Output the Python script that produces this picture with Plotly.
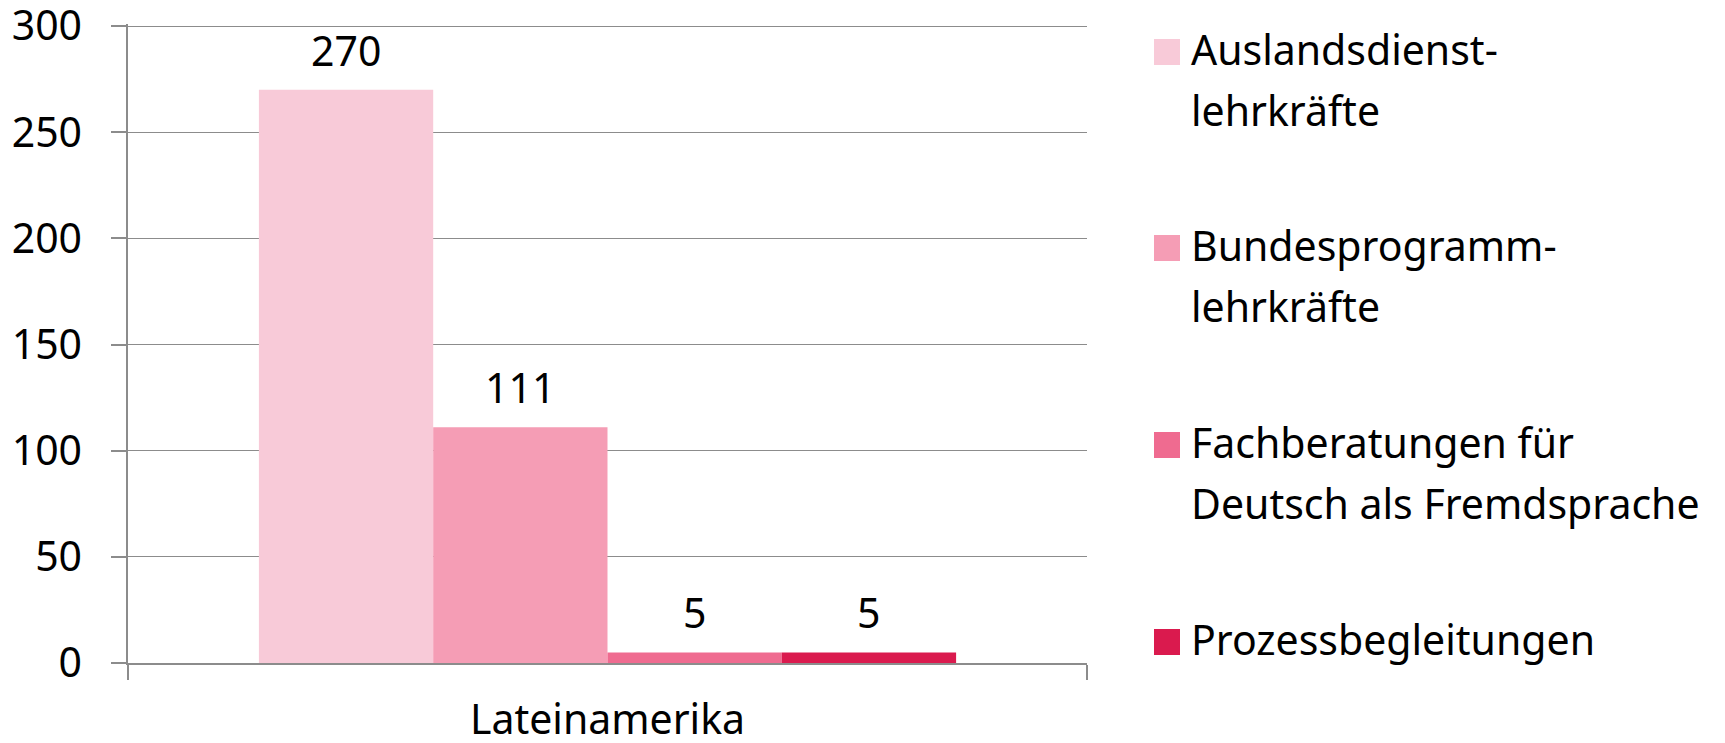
import plotly.graph_objects as go

# data
region = ["Lateinamerika"]
series_names = [
    "Auslandsdienst-<br>lehrkräfte",
    "Bundesprogramm-<br>lehrkräfte",
    "Fachberatungen für<br>Deutsch als Fremdsprache",
    "Prozessbegleitungen",
]
series_values = [270, 111, 5, 5]
series_colors = ["#F8CAD8", "#F59DB5", "#EF6B90", "#DA1A4E"]

y_max = 300
y_step = 50

FONT = "Noto Sans"
FS = 41
GRID = "#8c8c8c"
BARGAP = 0.273

W, H = 1725, 743
L, R, T, B = 128, 638, 24, 80
PW = W - L - R
PH = H - T - B


def px_x(p):
    return (p - L) / PW


def px_y(p):
    return (H - B - p) / PH


fig = go.Figure()
n = len(series_values)
bw = (1 - BARGAP) / n
for i, (name, val, col) in enumerate(zip(series_names, series_values, series_colors)):
    fig.add_trace(
        go.Bar(
            x=region,
            y=[val],
            name=name.replace("<br>", " "),
            marker_color=col,
            marker_line_width=0,
            showlegend=False,
        )
    )
    # value label, a bit higher above the bar than plotly's default outside text
    fig.add_annotation(
        x=-(1 - BARGAP) / 2 + (i + 0.5) * bw,
        y=val,
        xref="x",
        yref="y",
        text=str(val),
        showarrow=False,
        yanchor="bottom",
        yshift=10,
        font=dict(family=FONT, size=FS, color="#000000"),
    )

# hand-made legend (big squares like the original)
legend_top = [39, 235, 432, 629]
line_gap = 61
for name, col, top in zip(series_names, series_colors, legend_top):
    fig.add_shape(
        type="rect",
        xref="paper",
        yref="paper",
        x0=px_x(1154),
        x1=px_x(1180),
        y0=px_y(top + 26),
        y1=px_y(top),
        fillcolor=col,
        line_width=0,
    )
    for j, line in enumerate(name.split("<br>")):
        fig.add_annotation(
            xref="paper",
            yref="paper",
            x=px_x(1189),
            y=px_y(top - 20 + j * line_gap),
            xanchor="left",
            yanchor="top",
            align="left",
            text=line,
            showarrow=False,
            font=dict(family=FONT, size=FS, color="#000000"),
        )

fig.update_layout(
    width=W,
    height=H,
    margin=dict(l=L, r=R, t=T, b=B, autoexpand=False),
    barmode="group",
    bargap=BARGAP,
    bargroupgap=0,
    plot_bgcolor="white",
    paper_bgcolor="white",
    font=dict(family=FONT, size=FS, color="#000000"),
)
fig.update_xaxes(
    type="category",
    range=[-0.5, 0.5],
    showgrid=False,
    showline=True,
    linecolor=GRID,
    linewidth=1.5,
    ticks="outside",
    tickson="boundaries",
    ticklen=15,
    tickwidth=1.5,
    tickcolor=GRID,
    ticklabelstandoff=20,
    ticklabeloverflow="allow",
    tickfont=dict(family=FONT, size=FS, color="#000000"),
)
# a hair above 300 so plotly keeps the top gridline (it clips grids on the edge)
fig.update_yaxes(
    range=[0, y_max + 1],
    tickmode="linear",
    tick0=0,
    dtick=y_step,
    showgrid=True,
    gridcolor=GRID,
    gridwidth=1.3,
    zeroline=False,
    showline=True,
    linecolor=GRID,
    linewidth=1.5,
    ticks="outside",
    ticklen=15,
    tickwidth=1.5,
    tickcolor=GRID,
    ticklabelstandoff=21,
    ticklabeloverflow="allow",
    tickfont=dict(family=FONT, size=FS, color="#000000"),
)

fig.write_html(
    "out.html",
    config={"displayModeBar": False},
    post_script="document.body.style.margin = '0';",
)
